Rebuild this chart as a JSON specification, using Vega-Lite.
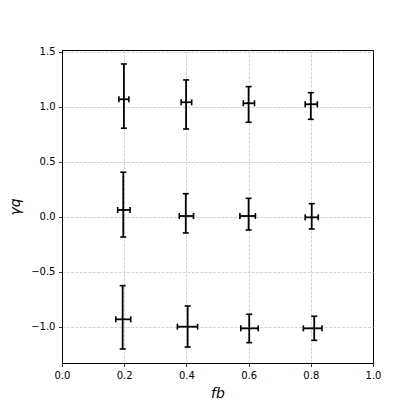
{
  "$schema": "https://vega.github.io/schema/vega-lite/v6.json",
  "width": 311,
  "height": 313,
  "autosize": "none",
  "padding": {"left": 62, "top": 50, "right": 42, "bottom": 52},
  "background": "white",
  "data": {"values": [
    {"x": 0.199, "xlo": 0.183, "xhi": 0.215, "y": 1.067, "ylo": 0.804, "yhi": 1.388},
    {"x": 0.399, "xlo": 0.383, "xhi": 0.417, "y": 1.040, "ylo": 0.797, "yhi": 1.243},
    {"x": 0.600, "xlo": 0.583, "xhi": 0.619, "y": 1.031, "ylo": 0.858, "yhi": 1.182},
    {"x": 0.800, "xlo": 0.782, "xhi": 0.821, "y": 1.022, "ylo": 0.885, "yhi": 1.127},
    {"x": 0.197, "xlo": 0.179, "xhi": 0.219, "y": 0.061, "ylo": -0.185, "yhi": 0.404},
    {"x": 0.398, "xlo": 0.377, "xhi": 0.423, "y": 0.006, "ylo": -0.148, "yhi": 0.209},
    {"x": 0.600, "xlo": 0.572, "xhi": 0.622, "y": 0.006, "ylo": -0.121, "yhi": 0.167},
    {"x": 0.803, "xlo": 0.782, "xhi": 0.824, "y": -0.006, "ylo": -0.112, "yhi": 0.118},
    {"x": 0.195, "xlo": 0.173, "xhi": 0.221, "y": -0.933, "ylo": -1.203, "yhi": -0.627},
    {"x": 0.404, "xlo": 0.371, "xhi": 0.436, "y": -1.000, "ylo": -1.185, "yhi": -0.812},
    {"x": 0.602, "xlo": 0.575, "xhi": 0.631, "y": -1.015, "ylo": -1.145, "yhi": -0.887},
    {"x": 0.811, "xlo": 0.776, "xhi": 0.836, "y": -1.015, "ylo": -1.124, "yhi": -0.905}
  ]},
  "encoding": {
    "x": {"field": "x", "type": "quantitative",
      "scale": {"domain": [0, 1], "nice": false, "zero": false},
      "axis": {"title": "fb", "values": [0, 0.2, 0.4, 0.6, 0.8, 1.0], "format": ".1f", "titleFontStyle": "italic",
        "gridOpacity": {"condition": {"test": "datum.value <= 0 || datum.value >= 1", "value": 0}, "value": 1}}},
    "y": {"field": "y", "type": "quantitative",
      "scale": {"domain": [-1.33, 1.515], "nice": false, "zero": false},
      "axis": {"title": "γq", "values": [-1, -0.5, 0, 0.5, 1, 1.5], "format": ".1f", "titleFontStyle": "italic"}}
  },
  "layer": [
    {"mark": {"type": "rule", "color": "black", "strokeWidth": 1.8},
     "encoding": {"y": {"field": "ylo", "type": "quantitative"}, "y2": {"field": "yhi"}}},
    {"mark": {"type": "rule", "color": "black", "strokeWidth": 1.8},
     "encoding": {"x": {"field": "xlo", "type": "quantitative"}, "x2": {"field": "xhi"}}},
    {"mark": {"type": "tick", "color": "black", "orient": "horizontal", "size": 6, "thickness": 1.6, "opacity": 1},
     "encoding": {"y": {"field": "ylo", "type": "quantitative"}}},
    {"mark": {"type": "tick", "color": "black", "orient": "horizontal", "size": 6, "thickness": 1.6, "opacity": 1},
     "encoding": {"y": {"field": "yhi", "type": "quantitative"}}},
    {"mark": {"type": "tick", "color": "black", "orient": "vertical", "size": 6, "thickness": 1.6, "opacity": 1},
     "encoding": {"x": {"field": "xlo", "type": "quantitative"}}},
    {"mark": {"type": "tick", "color": "black", "orient": "vertical", "size": 6, "thickness": 1.6, "opacity": 1},
     "encoding": {"x": {"field": "xhi", "type": "quantitative"}}}
  ],
  "config": {
    "view": {"stroke": "black", "strokeWidth": 1},
    "axis": {
      "labelFont": "DejaVu Sans", "labelFontSize": 10, "labelColor": "black", "labelFlush": false,
      "titleFont": "DejaVu Sans", "titleFontSize": 14, "titleFontWeight": "normal", "titleColor": "black",
      "domainColor": "black", "domainWidth": 1,
      "tickColor": "black", "tickSize": 3.5, "tickWidth": 0.8,
      "grid": true, "gridColor": "#c8c8c8", "gridDash": [3, 1.3], "gridWidth": 0.8,
      "labelPadding": 3.5
    },
    "axisX": {"titlePadding": 6},
    "axisY": {"titlePadding": 8}
  }
}
